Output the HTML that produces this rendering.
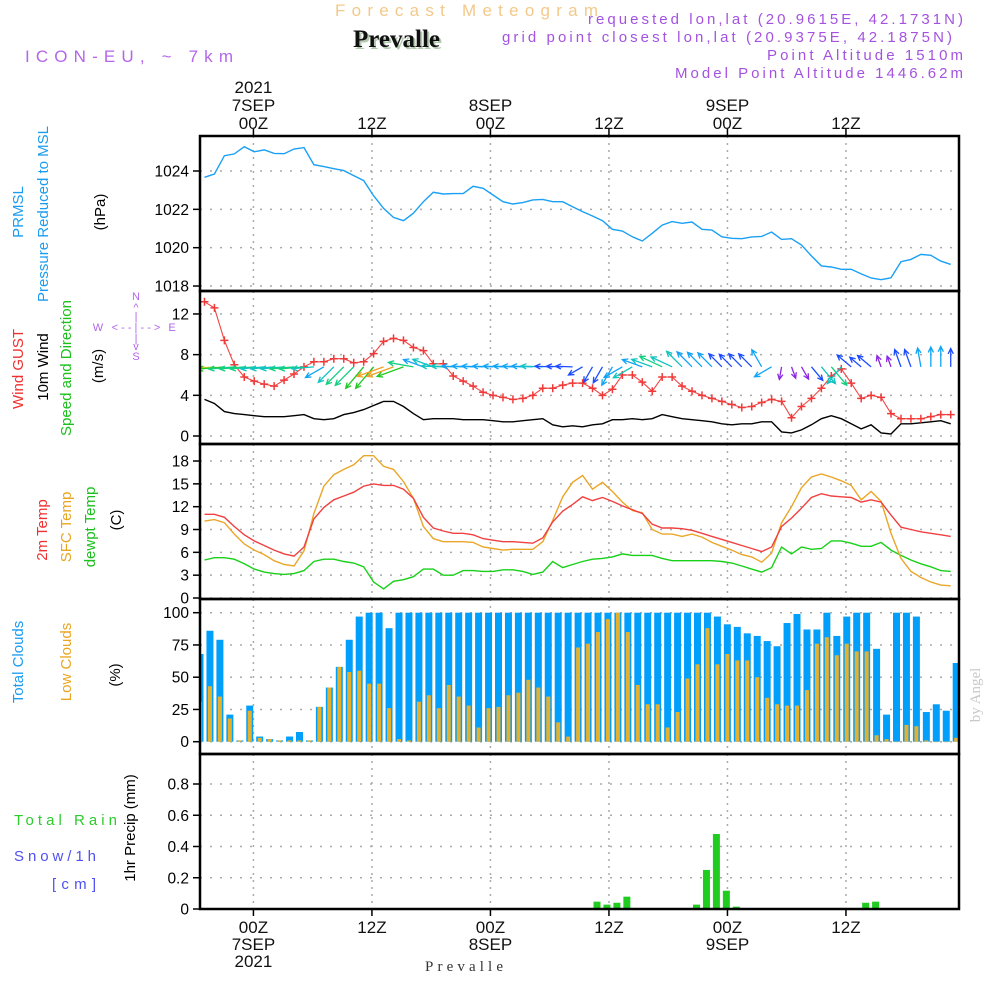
<!DOCTYPE html>
<html><head><meta charset="utf-8"><title>Forecast Meteogram Prevalle</title>
<style>
html,body{margin:0;padding:0;background:#fff;}
svg{display:block;font-family:"Liberation Sans",sans-serif;}
</style></head>
<body>
<svg id="chart" width="1000" height="1000" viewBox="0 0 1000 1000" xmlns="http://www.w3.org/2000/svg">
<text x="335" y="16" font-size="17" fill="#f3c98a" textLength="263" lengthAdjust="spacing">Forecast Meteogram</text>
<text x="355" y="49" font-size="25" font-weight="bold" font-family="Liberation Serif,serif" fill="#b4c8b0">Prevalle</text>
<text x="353" y="47" font-size="25" font-weight="bold" font-family="Liberation Serif,serif" fill="#111">Prevalle</text>
<text x="25" y="62" font-size="17" fill="#b366ea" textLength="208" lengthAdjust="spacing">ICON-EU, ~ 7km</text>
<g font-size="15" fill="#a453e0" text-anchor="end">
<text x="963" y="24" textLength="375" lengthAdjust="spacing">requested lon,lat (20.9615E, 42.1731N)</text>
<text x="952" y="42" textLength="450" lengthAdjust="spacing">grid point closest lon,lat (20.9375E, 42.1875N)</text>
<text x="963" y="60" textLength="196" lengthAdjust="spacing">Point Altitude 1510m</text>
<text x="963" y="78" textLength="288" lengthAdjust="spacing">Model Point Altitude 1446.62m</text>
</g>
<g font-size="15" text-anchor="middle">
<text transform="translate(23,212) rotate(-90)" fill="#1a9cf0">PRMSL</text>
<text transform="translate(48,214) rotate(-90)" fill="#1a9cf0">Pressure Reduced to MSL</text>
<text transform="translate(105,212) rotate(-90)" fill="#000">(hPa)</text>
<text transform="translate(23,369) rotate(-90)" fill="#f03030">Wind GUST</text>
<text transform="translate(48,367) rotate(-90)" fill="#000">10m Wind</text>
<text transform="translate(71,368) rotate(-90)" fill="#1cc01c">Speed and Direction</text>
<text transform="translate(103,366) rotate(-90)" fill="#000">(m/s)</text>
<text transform="translate(47,530) rotate(-90)" fill="#f03030">2m Temp</text>
<text transform="translate(71,527) rotate(-90)" fill="#eaa520">SFC Temp</text>
<text transform="translate(95,527) rotate(-90)" fill="#1cc01c">dewpt Temp</text>
<text transform="translate(121,520) rotate(-90)" fill="#000">(C)</text>
<text transform="translate(23,662) rotate(-90)" fill="#1a9cf0">Total Clouds</text>
<text transform="translate(71,662) rotate(-90)" fill="#eaa520">Low Clouds</text>
<text transform="translate(120,675) rotate(-90)" fill="#000">(%)</text>
<text transform="translate(135,828) rotate(-90)" fill="#000">1hr Precip (mm)</text>
</g>
<text x="14" y="825" font-size="15" fill="#2ccc2c" textLength="103" lengthAdjust="spacing">Total   Rain</text>
<text x="14" y="861" font-size="15" fill="#5050f0" textLength="82" lengthAdjust="spacing">Snow/1h</text>
<text x="52" y="889" font-size="15" fill="#5050f0" textLength="44" lengthAdjust="spacing">[cm]</text>
<g fill="#b366ea" font-size="11" text-anchor="middle">
<text x="136" y="300">N</text><text x="136" y="311">^</text><text x="136" y="320">|</text>
<text x="98" y="331">W</text><text x="136" y="331">&lt; - - | - - &gt;</text><text x="172" y="331">E</text>
<text x="136" y="342">|</text><text x="136" y="350">v</text><text x="136" y="360">S</text>
</g>
<text transform="translate(980,695) rotate(-90)" font-size="15" font-family="Liberation Serif,serif" fill="#c8c8c8" text-anchor="middle">by Angel</text>
<text x="425" y="971" font-size="15" font-family="Liberation Serif,serif" fill="#333" textLength="78" lengthAdjust="spacing">Prevalle</text>
<g id="plot"></g>
</svg>
<script>
const pressure = [1023.67,1023.84,1024.8,1024.89,1025.27,1025.0,1025.1,1024.92,1024.9,1025.15,1025.22,1024.33,1024.23,1024.12,1024.02,1023.76,1023.5,1022.71,1022.05,1021.58,1021.41,1021.8,1022.4,1022.89,1022.8,1022.82,1022.82,1023.2,1023.1,1022.75,1022.4,1022.28,1022.35,1022.49,1022.52,1022.4,1022.4,1022.14,
1021.88,1021.65,1021.41,1020.96,1020.87,1020.57,1020.35,1020.75,1021.18,1021.36,1021.27,1021.34,1020.96,1020.92,1020.57,1020.49,1020.47,1020.56,1020.59,1020.82,1020.43,1020.47,1020.14,1019.57,1019.05,1018.99,1018.87,1018.87,1018.63,1018.42,1018.33,1018.43,1019.27,1019.39,1019.65,1019.6,1019.3,1019.13];
const gust = [13.2,12.6,9.4,7.0,5.8,5.4,5.1,4.9,5.5,6.1,6.8,7.3,7.3,7.6,7.6,7.2,7.3,8.1,9.3,9.6,9.4,8.7,8.4,7.1,7.1,5.9,5.4,4.9,4.3,4.0,3.8,3.6,3.7,4.0,4.7,4.7,5.0,5.2,
5.2,4.7,4.0,4.6,6.0,6.0,5.3,4.4,5.8,5.8,4.9,4.4,4.0,3.7,3.4,3.1,2.8,2.9,3.3,3.6,3.4,1.8,2.9,3.7,4.7,5.9,6.6,5.2,3.7,4.0,3.8,2.2,1.7,1.7,1.7,1.9,2.1,2.1];
const windSpeed = [3.6,3.2,2.4,2.2,2.1,2.0,1.9,1.9,1.9,2.0,2.1,1.7,1.6,1.7,2.1,2.3,2.6,3.0,3.4,3.4,2.9,2.2,1.6,1.7,1.7,1.7,1.6,1.6,1.6,1.5,1.4,1.4,1.5,1.6,1.7,1.1,0.9,1.0,
0.9,1.1,1.2,1.6,1.6,1.7,1.6,1.7,2.1,1.9,1.7,1.6,1.5,1.4,1.2,1.1,1.2,1.2,1.4,1.4,0.4,0.3,0.6,1.1,1.7,2.0,1.7,1.2,0.7,1.1,0.3,0.2,1.2,1.2,1.3,1.4,1.5,1.2];
const windDir = [85,85,85,85,85,85,85,85,85,85,85,85,60,45,45,45,40,40,70,70,70,100,110,110,92,92,92,92,92,92,92,92,92,92,92,92,92,92,
60,30,30,30,60,60,110,110,115,115,135,135,135,135,135,135,135,135,150,60,10,340,330,320,320,320,40,130,130,130,160,160,160,160,170,180,180,180];
const temp2m = [11.0,11.0,10.6,9.4,8.3,7.5,6.9,6.3,5.8,5.5,6.7,10.4,11.9,12.9,13.4,13.9,14.7,15.0,14.8,14.8,14.3,13.1,10.6,9.2,8.8,8.5,8.5,8.3,7.8,7.6,7.4,7.4,7.3,7.2,7.9,10.0,11.4,12.3,
13.3,12.8,13.2,12.7,12.1,11.6,11.1,9.7,9.2,9.2,9.1,8.9,8.5,8.1,7.7,7.3,6.9,6.5,6.1,6.7,9.4,10.5,11.8,13.2,13.7,13.4,13.3,13.2,12.6,12.9,12.6,10.9,9.3,9.0,8.7,8.5,8.3,8.1];
const tempSfc = [10.1,10.3,9.9,8.4,7.1,6.3,5.7,4.9,4.4,4.2,6.2,11.1,14.7,16.2,16.9,17.5,18.7,18.7,17.3,16.9,15.3,13.1,9.4,7.8,7.4,7.4,7.4,7.3,6.7,6.5,6.3,6.4,6.4,6.4,7.4,10.2,13.3,15.2,
16.1,14.3,15.2,14.0,12.6,11.5,11.2,9.0,8.4,8.4,8.1,8.4,8.0,7.3,6.8,6.3,5.7,5.4,4.7,5.9,9.9,12.0,14.5,15.9,16.3,15.9,15.4,14.8,12.9,14.0,12.7,8.5,5.2,3.5,2.7,2.1,1.7,1.6];
const dewpt = [5.0,5.3,5.3,5.1,4.5,3.8,3.4,3.2,3.1,3.2,3.6,4.8,5.1,5.1,4.8,4.6,4.1,2.1,1.2,2.2,2.4,2.8,3.8,3.8,3.0,3.0,3.6,3.6,3.5,3.5,3.7,3.7,3.5,3.1,3.4,4.8,4.0,4.4,
4.8,5.1,5.2,5.4,5.8,5.6,5.6,5.6,5.2,4.9,4.9,4.9,4.9,4.9,4.8,4.6,4.2,3.8,3.4,4.0,6.7,5.8,6.7,6.4,6.5,7.5,7.5,7.2,6.8,6.8,7.3,6.3,5.6,5.0,4.5,4.1,3.6,3.5];
const totalClouds = [68,86,79,21,1,28,4,2,1,4,7.5,1,27,42,58,79,97,100,100,88,
100,100,100,100,100,100,100,100,100,100,100,100,100,100,100,100,100,100,100,100,100,100,100,100,100,100,100,100,100,100,100,100,
97,91,89,84,82,78,74,92,99,87,87,100,82,97,100,100,72,21,100,100,97,23,29,24,61];
const lowClouds = [31,43,35,18,1,24,3,2,1,1,1,1,27,42,58,54,55,45,45,26,2,1,31,36,26,44,35,28,11,26,27,36,38,48,42,35,15,4,73,76,85,95,100,85,44,29,29,11,23,49,60,88,60,68,63,63,50,34,29,28,28,40,76,81,67,76,70,70,5,2,0,13,12,1,0,0,3];
const precip = [0,0,0,0,0,0,0,0,0,0,0,0,0,0,0,0,0,0,0,0,0,0,0,0,0,0,0,0,0,0,0,0,0,0,0,0,0,0,0,0,
0.047,0.028,0.04,0.079,0,0,0,0,0,0,0.028,0.25,0.48,0.117,0.015,0,0,0,0,0,0,0,0,0,0,0,0,0.04,0.047,0,0,0,0,0,0,0,0];
const timeTickHours = [0,12,24,36,48,60];
const topTickLabels = [["2021","7SEP","00Z"],["","","12Z"],["","8SEP","00Z"],["","","12Z"],["","9SEP","00Z"],["","","12Z"]];
const bottomTickLabels = [["00Z","7SEP","2021"],["12Z","",""],["00Z","8SEP",""],["12Z","",""],["00Z","9SEP",""],["12Z","",""]];
const pressureTicks = [1018,1020,1022,1024];
const windTicks = [0,4,8,12];
const tempTicks = [0,3,6,9,12,15,18];
const cloudTicks = [0,25,50,75,100];
const precipTicks = [0,0.2,0.4,0.6,0.8];

const X0 = 200, X1 = 959;
const xs = t => 200 + 9.95 * t;
const xHour = h => xs(5.37 + h * 0.9925);
const xLine = k => xs(k + 0.45);
const xBar = k => xs(k);
const panels = {
  pres:  {top:136, bot:291, y: v => 171 + (1024 - v) * 19.17},
  wind:  {top:291, bot:444, y: v => 436 - v * 10.17},
  temp:  {top:444, bot:599, y: v => 598 - v * 7.61},
  cloud: {top:599, bot:754, y: v => 741.7 - v * 1.29},
  prec:  {top:754, bot:909, y: v => 909 - v * 156.25}
};
const NS = "http://www.w3.org/2000/svg";
const plot = document.getElementById('plot');
function mk(tag, attrs, parent) {
  const e = document.createElementNS(NS, tag);
  for (const k in attrs) e.setAttribute(k, attrs[k]);
  (parent || plot).appendChild(e);
  return e;
}
function clipFor(id, p) {
  const cp = mk('clipPath', {id: id});
  mk('rect', {x: X0, y: p.top, width: X1 - X0, height: p.bot - p.top}, cp);
}
for (const key in panels) {
  const p = panels[key];
  clipFor('clip-' + key, p);
  timeTickHours.forEach(h => {
    const gl = mk('line', {x1: xHour(h), x2: xHour(h), y1: p.top, y2: p.bot, stroke: '#aaa', 'stroke-width': 1.5, 'stroke-dasharray': '2,5'});
    
    
  });
}
function yAxis(p, ticks, fmt, name) {
  ticks.forEach(v => {
    const y = p.y(v);
    const g = mk('line', {x1: X0, x2: X1, y1: y, y2: y, stroke: '#aaa', 'stroke-width': 1.5, 'stroke-dasharray': '2,8'});
    
    
    mk('line', {x1: X0 - 7, x2: X0, y1: y, y2: y, stroke: '#000', 'stroke-width': 1.5});
    const t = mk('text', {x: 189, y: y + 5.5, 'font-size': 15.5, 'text-anchor': 'end', fill: '#000'});
    
    
    t.textContent = fmt(v);
  });
}
yAxis(panels.pres, pressureTicks, v => v, 'pressure');
yAxis(panels.wind, windTicks, v => v, 'wind');
yAxis(panels.temp, tempTicks, v => v, 'temp');
yAxis(panels.cloud, cloudTicks, v => v, 'cloud');
yAxis(panels.prec, precipTicks, v => v === 0 ? '0' : v.toFixed(1), 'precip');

function line(arr, p, color, key, name, w) {
  const pts = arr.map((v, k) => xLine(k).toFixed(1) + ',' + p.y(v).toFixed(1)).join(' ');
  const pl = mk('polyline', {points: pts, fill: 'none', stroke: color, 'stroke-width': w || 1.4, 'clip-path': 'url(#clip-' + key + ')'});
  
  
  return pl;
}
line(pressure, panels.pres, '#1aa0f5', 'pres', 'pressure-line');

line(windSpeed, panels.wind, '#000', 'wind', 'wind-speed-line');
line(gust, panels.wind, '#f04545', 'wind', 'gust-line', 1.1);
gust.forEach((v, k) => {
  const x = xLine(k), y = panels.wind.y(v);
  const g = mk('path', {d: `M${x-4},${y}H${x+4}M${x},${y-4}V${y+4}`, stroke: '#f03a3a', 'stroke-width': 1.5, 'clip-path': 'url(#clip-wind)'});
  
  
});
function speedColor(s) {
  if (s < 0.7) return '#8a28e0';
  if (s < 1.3) return '#1c4cff';
  if (s < 1.65) return '#10a4f8';
  if (s < 2.0) return '#10c4c0';
  if (s < 2.4) return '#12d080';
  if (s < 3.1) return '#22c822';
  if (s < 3.3) return '#b8d030';
  return '#f0a020';
}
const arrowBase = panels.wind.y(6.8);
windDir.forEach((d, k) => {
  const s = windSpeed[k];
  const len = Math.min(28, 10 + 7 * s);
  const a = (d + 180) * Math.PI / 180;
  const dx = Math.sin(a), dy = -Math.cos(a);
  const x0 = xLine(k), y0 = arrowBase;
  const x1 = x0 + dx * len, y1 = y0 + dy * len;
  const hl = 6, ang = 0.45;
  const bx = -dx, by = -dy;
  const h1x = x1 + hl * (bx * Math.cos(ang) - by * Math.sin(ang)), h1y = y1 + hl * (bx * Math.sin(ang) + by * Math.cos(ang));
  const h2x = x1 + hl * (bx * Math.cos(-ang) - by * Math.sin(-ang)), h2y = y1 + hl * (bx * Math.sin(-ang) + by * Math.cos(-ang));
  const ar = mk('path', {d: `M${x0},${y0}L${x1},${y1}M${h1x},${h1y}L${x1},${y1}L${h2x},${h2y}`, stroke: speedColor(s), 'stroke-width': 1.3, fill: 'none', 'clip-path': 'url(#clip-wind)'});
  
  
});

line(dewpt, panels.temp, '#18d018', 'temp', 'dewpoint-line');
line(tempSfc, panels.temp, '#eaa628', 'temp', 'sfc-temp-line');
line(temp2m, panels.temp, '#f04040', 'temp', 'temp2m-line');

totalClouds.forEach((v, k) => {
  const y = panels.cloud.y(v), y0 = panels.cloud.y(0);
  const r = mk('rect', {x: xBar(k) - 3.5, y: y, width: 7, height: Math.max(0.5, y0 - y), fill: '#009ffc', 'clip-path': 'url(#clip-cloud)'});
  
  
});
lowClouds.forEach((v, k) => {
  const y = panels.cloud.y(v), y0 = panels.cloud.y(0);
  const r = mk('rect', {x: xBar(k) - 2, y: y, width: 4, height: Math.max(0.5, y0 - y), fill: '#e6b02c', 'clip-path': 'url(#clip-cloud)'});
  
  
});

precip.forEach((v, k) => {
  if (v <= 0) return;
  const y = panels.prec.y(v), y0 = panels.prec.y(0);
  const r = mk('rect', {x: xBar(k) - 4.5, y: y, width: 7, height: y0 - y, fill: '#20cc20', 'clip-path': 'url(#clip-prec)'});
  
  
});
mk('line', {x1: X0, x2: X1, y1: 909, y2: 909, stroke: '#000', 'stroke-width': 1.5, 'stroke-dasharray': '6,3'});

for (const key in panels) {
  const p = panels[key];
  const fr = mk('rect', {x: X0, y: p.top, width: X1 - X0, height: p.bot - p.top, fill: 'none', stroke: '#000', 'stroke-width': 2.5});
  
  
}
timeTickHours.forEach((h, i) => {
  const x = xHour(h);
  mk('line', {x1: x, x2: x, y1: 129, y2: 136, stroke: '#000', 'stroke-width': 1.5});
  mk('line', {x1: x, x2: x, y1: 909, y2: 916, stroke: '#000', 'stroke-width': 1.5});
  const tl = topTickLabels[i];
  [93, 111, 129].forEach((yy, j) => {
    if (!tl[j]) return;
    const t = mk('text', {x: x, y: yy, 'font-size': 17, 'text-anchor': 'middle', fill: '#111'});
    
    
    t.textContent = tl[j];
  });
  const bl = bottomTickLabels[i];
  [933, 950, 967].forEach((yy, j) => {
    if (!bl[j]) return;
    const t = mk('text', {x: x, y: yy, 'font-size': 17, 'text-anchor': 'middle', fill: '#111'});
    
    
    t.textContent = bl[j];
  });
});
</script>
</body></html>
